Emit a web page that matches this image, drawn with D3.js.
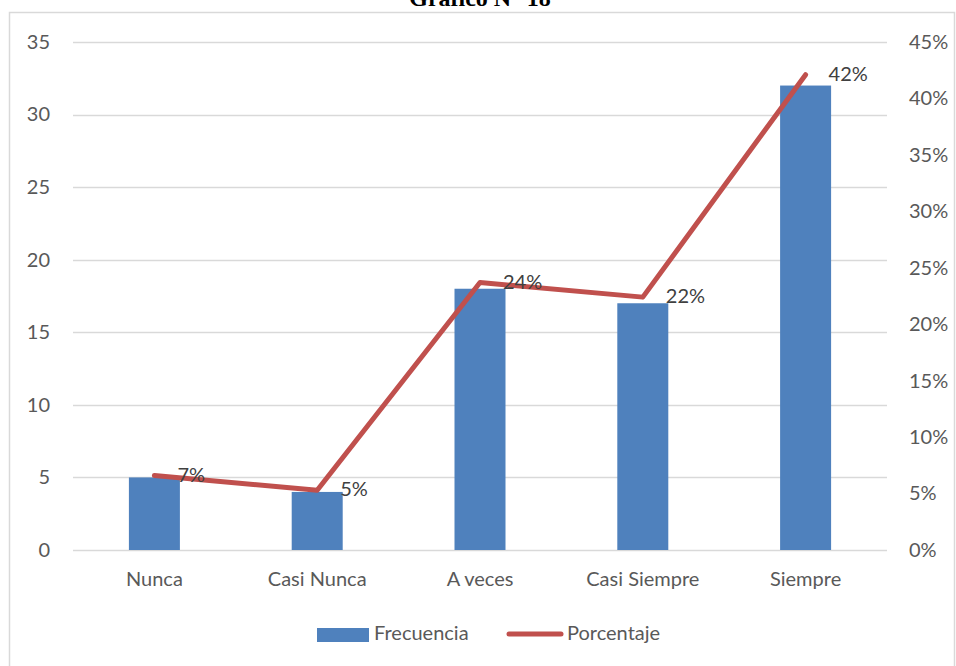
<!DOCTYPE html>
<html>
<head>
<meta charset="utf-8">
<script src="https://cdn.jsdelivr.net/npm/d3@7"></script>
<style>
  body { margin: 0; background: #fff; }
  svg text { font-family: Lato, "Open Sans", sans-serif; }
</style>
</head>
<body>
<div id="vis"></div>
<script>
// chart data
const CATEGORIES = ["Nunca", "Casi Nunca", "A veces", "Casi Siempre", "Siempre"];
const FRECUENCIA = [5, 4, 18, 17, 32];
const PORCENTAJE = [6.6, 5.3, 23.7, 22.4, 42.1];
const LEFT_TICKS = [0, 5, 10, 15, 20, 25, 30, 35];
const RIGHT_TICKS = [0, 5, 10, 15, 20, 25, 30, 35, 40, 45];

const FRAME_WIDTH = 956;
const FRAME_HEIGHT = 666;
const MARGINS = {left: 73, right: 69, top: 42, bottom: 116};
const FONT = "20px";

const VIS_WIDTH = FRAME_WIDTH - MARGINS.left - MARGINS.right;
const VIS_HEIGHT = FRAME_HEIGHT - MARGINS.top - MARGINS.bottom;

const FRAME = d3.select("#vis")
  .append("svg")
  .attr("width", FRAME_WIDTH)
  .attr("height", FRAME_HEIGHT);

// outer chart border (mostly off-page)
FRAME.append("rect")
  .attr("x", 9.5).attr("y", 12.5)
  .attr("width", 945).attr("height", 700)
  .attr("fill", "none")
  .attr("stroke", "#d9d9d9")
  .attr("stroke-width", 1.5);

// title, cut off at the top like the original
FRAME.append("text")
  .attr("x", 480).attr("y", 6)
  .attr("text-anchor", "middle")
  .style("font-family", "'Liberation Serif', 'Times New Roman', serif")
  .style("font-weight", "bold")
  .style("font-size", "24px")
  .text("Gráfico N° 18");

//scales
const X_SCALE = d3.scaleBand()
  .domain(CATEGORIES)
  .range([0, VIS_WIDTH]);
const Y_LEFT = d3.scaleLinear()
  .domain([0, 35])
  .range([VIS_HEIGHT, 0]);
const Y_RIGHT = d3.scaleLinear()
  .domain([0, 45])
  .range([VIS_HEIGHT, 0]);

const g = FRAME.append("g")
  .attr("transform", "translate(" + MARGINS.left + "," + MARGINS.top + ")");

// gridlines
g.selectAll(".grid")
  .data(LEFT_TICKS)
  .enter()
  .append("line")
  .attr("x1", 0).attr("x2", VIS_WIDTH)
  .attr("y1", (d) => Math.round(Y_LEFT(d)) + 0.5)
  .attr("y2", (d) => Math.round(Y_LEFT(d)) + 0.5)
  .attr("stroke", "#d9d9d9")
  .attr("stroke-width", 1.3);

// left axis
const leftAxis = g.append("g")
  .call(d3.axisLeft(Y_LEFT).tickValues(LEFT_TICKS).tickSize(0).tickPadding(23));
leftAxis.select(".domain").remove();
leftAxis.selectAll("text")
  .attr("fill", "#595959")
  .style("font-size", FONT);

// right axis
const rightAxis = g.append("g")
  .attr("transform", "translate(" + VIS_WIDTH + ",0)")
  .call(d3.axisRight(Y_RIGHT).tickValues(RIGHT_TICKS).tickSize(0).tickPadding(22)
    .tickFormat((d) => d + "%"));
rightAxis.select(".domain").remove();
rightAxis.selectAll("text")
  .attr("fill", "#595959")
  .style("font-size", FONT);

// bottom axis
const bottomAxis = g.append("g")
  .attr("transform", "translate(0," + VIS_HEIGHT + ")")
  .call(d3.axisBottom(X_SCALE).tickSize(0).tickPadding(22));
bottomAxis.select(".domain").remove();
bottomAxis.selectAll("text")
  .attr("fill", "#595959")
  .style("font-size", FONT);

// bars
const BAR_W = 51;
g.selectAll(".bar")
  .data(FRECUENCIA)
  .enter()
  .append("rect")
  .attr("x", (d, i) => X_SCALE(CATEGORIES[i]) + X_SCALE.bandwidth() / 2 - BAR_W / 2)
  .attr("y", (d) => Y_LEFT(d))
  .attr("width", BAR_W)
  .attr("height", (d) => VIS_HEIGHT - Y_LEFT(d))
  .attr("fill", "#4f81bd");

// percentage line
const line = d3.line()
  .x((d, i) => X_SCALE(CATEGORIES[i]) + X_SCALE.bandwidth() / 2)
  .y((d) => Y_RIGHT(d));

g.append("path")
  .datum(PORCENTAJE)
  .attr("d", line)
  .attr("fill", "none")
  .attr("stroke", "#c0504d")
  .attr("stroke-width", 5)
  .attr("stroke-linejoin", "round")
  .attr("stroke-linecap", "round");

// data labels
g.selectAll(".lbl")
  .data(PORCENTAJE)
  .enter()
  .append("text")
  .attr("x", (d, i) => X_SCALE(CATEGORIES[i]) + X_SCALE.bandwidth() / 2 + 23)
  .attr("y", (d) => Y_RIGHT(d) + 1)
  .attr("dominant-baseline", "middle")
  .attr("fill", "#404040")
  .style("font-size", FONT)
  .text((d) => Math.round(d) + "%");

// legend
const legend = FRAME.append("g");
legend.append("rect")
  .attr("x", 317).attr("y", 628)
  .attr("width", 52).attr("height", 14)
  .attr("fill", "#4f81bd");
legend.append("text")
  .attr("x", 374).attr("y", 635)
  .attr("dominant-baseline", "middle")
  .attr("fill", "#595959")
  .style("font-size", FONT)
  .text("Frecuencia");
legend.append("line")
  .attr("x1", 509).attr("x2", 561)
  .attr("y1", 634).attr("y2", 634)
  .attr("stroke", "#c0504d")
  .attr("stroke-width", 5)
  .attr("stroke-linecap", "round");
legend.append("text")
  .attr("x", 567).attr("y", 635)
  .attr("dominant-baseline", "middle")
  .attr("fill", "#595959")
  .style("font-size", FONT)
  .text("Porcentaje");
</script>
</body>
</html>
